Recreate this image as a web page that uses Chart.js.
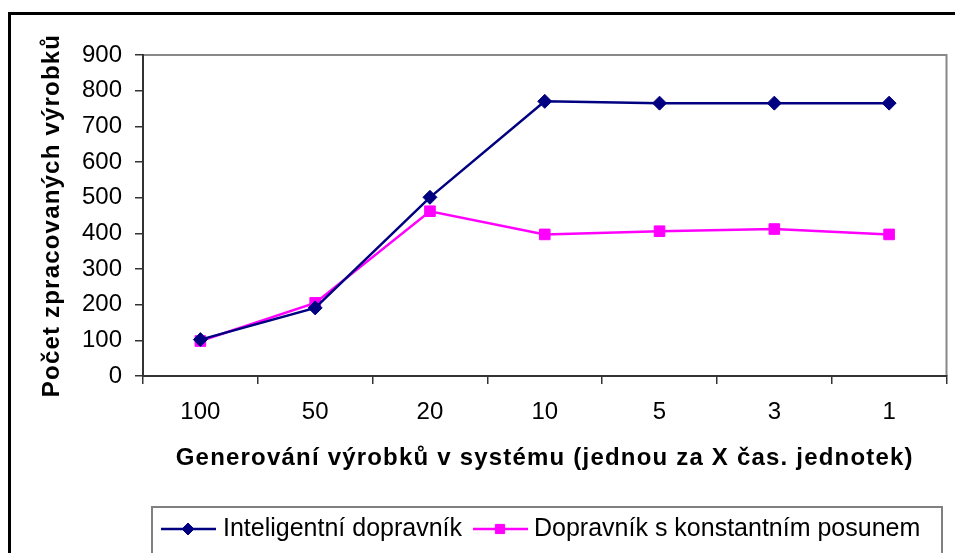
<!DOCTYPE html>
<html>
<head>
<meta charset="utf-8">
<script src="https://cdn.jsdelivr.net/npm/chart.js"></script>
<style>
  body { margin: 0; background: #fff; }
  #wrap { width: 955px; height: 553px; }
</style>
</head>
<body>
<div id="wrap"><canvas id="chart" width="955" height="553"></canvas></div>

<script>
    // values
    const categories = ['100', '50', '20', '10', '5', '3', '1'];
    const inteligentni = [102, 191, 501, 770, 765, 765, 765];
    const konstantni = [98, 205, 462, 397, 406, 412, 397];
    const seriesNames = ['Inteligentní dopravník', 'Dopravník s konstantním posunem'];

    const NAVY = '#000080';
    const MAGENTA = '#FF00FF';
    const FONT = 'Arial, "Liberation Sans", sans-serif';

    // outer chart border + gray plot-area frame (top and right)
    const framePlugin = {
        id: 'frame',
        beforeDraw(chart) {
            const ctx = chart.ctx;
            const a = chart.chartArea;
            ctx.save();
            ctx.strokeStyle = '#000';
            ctx.lineWidth = 3;
            ctx.beginPath();
            ctx.moveTo(9.5, 600);
            ctx.lineTo(9.5, 13.5);
            ctx.lineTo(1000, 13.5);
            ctx.stroke();

            ctx.strokeStyle = '#888';
            ctx.lineWidth = 2;
            ctx.beginPath();
            ctx.moveTo(a.left, a.top);
            ctx.lineTo(a.right, a.top);
            ctx.lineTo(a.right, a.bottom);
            ctx.stroke();
            ctx.restore();
        }
    };

    // axis titles in the original are slightly letter-spaced
    const spacedTitles = {
        id: 'spacedTitles',
        afterUpdate(chart) {
            Object.values(chart.scales).forEach(scale => {
                if (scale._spaced) return;
                const orig = scale.drawTitle;
                scale.drawTitle = function () {
                    this.ctx.save();
                    this.ctx.letterSpacing = '1.2px';
                    orig.call(this);
                    this.ctx.restore();
                };
                scale._spaced = true;
            });
        }
    };

    // Excel-style legend: line + marker, boxed
    const legendPlugin = {
        id: 'excelLegend',
        afterDraw(chart) {
            const ctx = chart.ctx;
            ctx.save();
            ctx.strokeStyle = '#808080';
            ctx.lineWidth = 2;
            ctx.strokeRect(152, 507, 790, 80);

            const items = [
                { x: 161, textX: 223 },
                { x: 473, textX: 534 }
            ];
            const y = 529;
            chart.data.datasets.forEach((ds, i) => {
                const it = items[i];
                ctx.strokeStyle = ds.borderColor;
                ctx.fillStyle = ds.backgroundColor;
                ctx.lineWidth = 2.5;
                ctx.beginPath();
                ctx.moveTo(it.x, y);
                ctx.lineTo(it.x + 55, y);
                ctx.stroke();
                ctx.lineWidth = 1;
                Chart.helpers.drawPoint(ctx, {
                    pointStyle: ds.pointStyle,
                    radius: ds.pointRadius - 1,
                    borderWidth: 1
                }, it.x + 27, y);
                ctx.fillStyle = '#000';
                ctx.font = '25px ' + FONT;
                ctx.textBaseline = 'middle';
                ctx.fillText(ds.label, it.textX, y);
            });
            ctx.restore();
        }
    };

    const config = {
        type: 'line',
        data: {
            labels: categories,
            datasets: [{
                label: seriesNames[0],
                data: inteligentni,
                borderColor: NAVY,
                backgroundColor: NAVY,
                borderWidth: 2.5,
                pointStyle: 'rectRot',
                pointRadius: 7,
                pointBorderWidth: 1,
                tension: 0
            },
            {
                label: seriesNames[1],
                data: konstantni,
                borderColor: MAGENTA,
                backgroundColor: MAGENTA,
                borderWidth: 2.5,
                pointStyle: 'rect',
                pointRadius: 7.5,
                pointBorderWidth: 1,
                tension: 0
            }]
        },
        options: {
            responsive: false,
            animation: false,
            devicePixelRatio: 1,
            layout: {
                padding: { left: 0, top: 55, right: 3, bottom: 0 }
            },
            plugins: {
                legend: { display: false },
                tooltip: { enabled: false }
            },
            scales: {
                x: {
                    offset: true,
                    afterFit(scale) { scale.height = 177; },
                    border: { color: '#333', width: 2 },
                    grid: {
                        offset: true,
                        drawOnChartArea: false,
                        drawTicks: true,
                        tickLength: 8,
                        color: '#333',
                        lineWidth: 1.5
                    },
                    ticks: {
                        color: '#000',
                        padding: 14,
                        maxRotation: 0,
                        font: { family: FONT, size: 24 }
                    },
                    title: {
                        display: true,
                        text: 'Generování výrobků v systému (jednou za X čas. jednotek)',
                        color: '#000',
                        padding: { top: 0, bottom: 80 },
                        font: { family: FONT, size: 24, weight: 'bold' }
                    }
                },
                y: {
                    min: 0,
                    max: 900,
                    afterFit(scale) { scale.width = 143; },
                    border: { color: '#333', width: 2 },
                    grid: {
                        drawOnChartArea: false,
                        drawTicks: true,
                        tickLength: 8,
                        color: '#333',
                        lineWidth: 1.5
                    },
                    ticks: {
                        stepSize: 100,
                        color: '#000',
                        padding: 13,
                        font: { family: FONT, size: 24 }
                    },
                    title: {
                        display: true,
                        text: 'Počet zpracovaných výrobků',
                        color: '#000',
                        padding: { top: 38, bottom: 0 },
                        font: { family: FONT, size: 24, weight: 'bold' }
                    }
                }
            }
        },
        plugins: [framePlugin, spacedTitles, legendPlugin]
    };

    new Chart(document.getElementById('chart'), config);
</script>
</body>
</html>
